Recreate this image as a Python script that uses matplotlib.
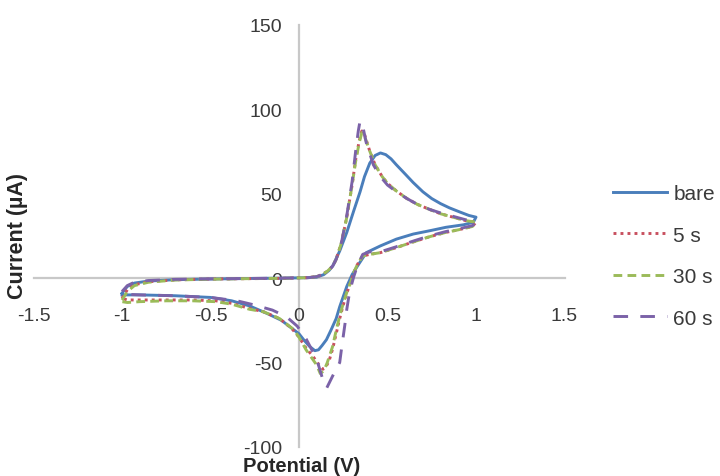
import matplotlib
matplotlib.use("Agg")
import matplotlib.pyplot as plt

plt.rcParams['font.family'] = ['Liberation Sans', 'DejaVu Sans']
plt.rcParams['axes.unicode_minus'] = False

# bare electrode: forward scan (-1 -> 1) then reverse (1 -> -1)
E_bare = [-1.00, -0.97, -0.93, -0.85, -0.70, -0.50, -0.30, -0.10, 0.05, 0.10, 0.14, 0.17,
          0.19, 0.23, 0.27, 0.31, 0.345, 0.37, 0.40, 0.43, 0.46, 0.49, 0.52, 0.55, 0.60,
          0.645, 0.70, 0.75, 0.80, 0.85, 0.91, 0.96, 1.00,
          0.985, 0.93, 0.83, 0.74, 0.645, 0.55, 0.46, 0.38, 0.33, 0.30, 0.27, 0.25, 0.23,
          0.21, 0.18, 0.155, 0.13, 0.11, 0.09, 0.06, 0.03, 0.00, -0.05, -0.10, -0.18,
          -0.28, -0.38, -0.50, -0.70, -0.90, -1.00]
I_bare = [-9.0, -5.0, -3.0, -1.8, -1.0, -0.6, -0.3, -0.1, 0.2, 0.5, 2.0, 4.5,
          7.0, 16.0, 27.0, 40.0, 51.0, 60.0, 68.0, 72.5, 74.0, 73.0, 70.5, 67.0, 61.5,
          56.5, 51.0, 47.0, 44.0, 41.5, 39.0, 37.0, 36.0,
          33.0, 31.5, 30.0, 28.0, 26.0, 23.0, 19.0, 15.0, 7.0, 2.0, -5.0, -11.0, -17.0,
          -24.0, -31.0, -36.5, -40.0, -42.5, -43.0, -40.5, -37.0, -33.0, -29.0, -25.0, -21.0,
          -16.5, -13.5, -11.5, -10.5, -10.0, -10.0]

# 5 s
E_5 = [-1.00, -0.97, -0.93, -0.85, -0.70, -0.50, -0.30, -0.10, 0.05, 0.10, 0.13, 0.16,
       0.19, 0.21, 0.24, 0.27, 0.30, 0.32, 0.34, 0.355, 0.37, 0.40, 0.43, 0.47, 0.50,
       0.55, 0.61, 0.67, 0.74, 0.80, 0.87, 0.94, 1.00,
       0.98, 0.90, 0.83, 0.74, 0.65, 0.55, 0.46, 0.40, 0.36, 0.33, 0.31, 0.29, 0.27,
       0.25, 0.23, 0.21, 0.19, 0.17, 0.15, 0.135, 0.11, 0.08, 0.04, 0.00, -0.04, -0.11,
       -0.20, -0.28, -0.38, -0.47, -0.60, -0.75, -0.90, -0.97, -1.00]
I_5 = [-12.0, -7.0, -4.0, -2.2, -1.1, -0.6, -0.4, -0.2, 0.2, 0.8, 2.0, 4.0,
       7.0, 11.0, 21.0, 36.0, 55.0, 70.0, 81.0, 87.0, 85.0, 75.0, 67.0, 60.0, 56.0,
       51.5, 47.0, 43.5, 40.5, 38.0, 36.0, 34.0, 33.0,
       30.5, 28.5, 27.0, 24.5, 21.5, 18.0, 15.0, 14.0, 13.0, 8.0, 3.0, -3.0, -9.0,
       -16.0, -24.0, -33.0, -42.0, -49.0, -53.0, -54.0, -51.0, -46.5, -41.5, -35.0, -30.0, -24.0,
       -20.0, -18.0, -15.0, -13.5, -13.0, -13.0, -13.0, -13.0, -12.0]

# 30 s
E_30 = [-1.00, -0.97, -0.93, -0.85, -0.70, -0.50, -0.30, -0.10, 0.05, 0.10, 0.13, 0.16,
        0.19, 0.21, 0.24, 0.27, 0.30, 0.32, 0.34, 0.355, 0.37, 0.40, 0.43, 0.47, 0.50,
        0.55, 0.61, 0.67, 0.74, 0.80, 0.87, 0.94, 1.00,
        0.98, 0.90, 0.83, 0.74, 0.65, 0.55, 0.46, 0.40, 0.36, 0.33, 0.31, 0.29, 0.27,
        0.25, 0.23, 0.21, 0.19, 0.16, 0.14, 0.12, 0.10, 0.07, 0.04, 0.00, -0.03, -0.11,
        -0.20, -0.28, -0.38, -0.47, -0.60, -0.75, -0.90, -0.97, -1.00]
I_30 = [-13.0, -8.0, -4.5, -2.5, -1.2, -0.7, -0.4, -0.2, 0.2, 0.8, 2.0, 4.0,
        7.0, 11.0, 21.0, 36.0, 55.0, 69.0, 80.0, 86.0, 84.0, 75.0, 67.0, 60.0, 56.0,
        51.5, 47.0, 43.5, 40.5, 38.0, 36.0, 34.0, 33.0,
        30.5, 28.5, 27.0, 24.5, 21.5, 18.0, 15.0, 14.0, 13.0, 8.0, 3.4, -3.0, -8.5,
        -15.0, -22.5, -31.0, -40.5, -50.0, -55.0, -56.5, -51.5, -47.0, -42.5, -35.0, -30.5, -24.0,
        -20.0, -18.5, -15.5, -14.0, -13.5, -13.5, -14.0, -14.5, -14.0]

# 60 s
E_60 = [-1.00, -0.97, -0.93, -0.85, -0.70, -0.50, -0.30, -0.10, 0.05, 0.10, 0.13, 0.16,
        0.19, 0.21, 0.24, 0.27, 0.30, 0.32, 0.335, 0.345, 0.36, 0.38, 0.42, 0.46, 0.50,
        0.55, 0.61, 0.67, 0.74, 0.80, 0.87, 0.94, 1.00,
        0.98, 0.90, 0.83, 0.74, 0.65, 0.55, 0.46, 0.40, 0.36, 0.33, 0.31, 0.29, 0.28,
        0.27, 0.26, 0.25, 0.24, 0.23, 0.19, 0.157, 0.14, 0.12, 0.10, 0.08, 0.04, -0.01,
        -0.07, -0.15, -0.25, -0.35, -0.50, -0.70, -0.90, -1.00]
I_60 = [-8.0, -4.5, -2.5, -1.5, -0.8, -0.5, -0.3, -0.1, 0.2, 0.8, 2.0, 4.0,
        7.0, 11.0, 21.0, 37.0, 57.0, 75.0, 87.0, 93.0, 90.0, 80.0, 67.0, 60.0, 55.0,
        51.0, 47.0, 43.5, 40.5, 38.5, 36.5, 34.5, 33.5,
        31.0, 29.0, 27.5, 25.0, 22.0, 18.5, 15.5, 15.5, 14.0, 7.3, 1.0, -6.5, -12.0,
        -18.5, -27.0, -34.5, -42.0, -50.0, -58.0, -65.0, -62.0, -55.0, -48.0, -44.0, -36.0, -28.5,
        -23.0, -19.0, -16.0, -13.5, -11.5, -10.5, -10.0, -9.5]

series = [
    ('bare', E_bare, I_bare, '#4A7EBB', '-'),
    ('5 s', E_5, I_5, '#C8505F', (0, (1, 1.4))),
    ('30 s', E_30, I_30, '#9BBB59', (0, (3, 1.8))),
    ('60 s', E_60, I_60, '#7B62A8', (0, (5, 4.2))),
]

xticks = [-1.5, -1, -0.5, 0, 0.5, 1, 1.5]
xticklabels = ['-1.5', '-1', '-0.5', '0', '0.5', '1', '1.5']
yticks = [-100, -50, 0, 50, 100, 150]

fig = plt.figure(figsize=(7.2, 4.77), dpi=100)
ax = fig.add_axes([33.5 / 720, 1 - 448 / 477, (564.5 - 33.5) / 720, (448 - 25.5) / 477])

for label, E, I, color, ls in series:
    ax.plot(E, I, color=color, linestyle=ls, lw=2.1, label=label,
            dash_capstyle='butt', solid_joinstyle='round')

ax.set_xlim(-1.5, 1.5)
ax.set_ylim(-100, 150)
for s in ['top', 'right']:
    ax.spines[s].set_visible(False)
ax.spines['left'].set_position(('data', 0))
ax.spines['bottom'].set_position(('data', 0))
for s in ['left', 'bottom']:
    ax.spines[s].set_color('#C8C8C8')
    ax.spines[s].set_linewidth(1.6)
    ax.spines[s].set_zorder(0)

ax.set_xticks(xticks)
ax.set_xticklabels(xticklabels)
ax.set_yticks(yticks)
ax.tick_params(axis='x', length=0, pad=21, labelsize=14, labelcolor='#3A3A3A')
ax.tick_params(axis='y', length=0, pad=12, labelsize=14, labelcolor='#3A3A3A')
ax.patch.set_visible(False)

fig.text(18 / 720, 1 - 236 / 477, 'Current (µA)', rotation=90, ha='center', va='center',
         fontsize=15.5, fontweight='bold', color='#262626')
fig.text(302 / 720, 1 - 467 / 477, 'Potential (V)', ha='center', va='center',
         fontsize=14.5, fontweight='bold', color='#262626')

fig.legend(loc='center left', bbox_to_anchor=(613 / 720, 1 - 257 / 477), frameon=False,
           fontsize=15, handlelength=2.6, handletextpad=0.3, labelspacing=1.08,
           borderpad=0, borderaxespad=0, labelcolor='#3A3A3A')

fig.savefig('out.png', dpi=100)
